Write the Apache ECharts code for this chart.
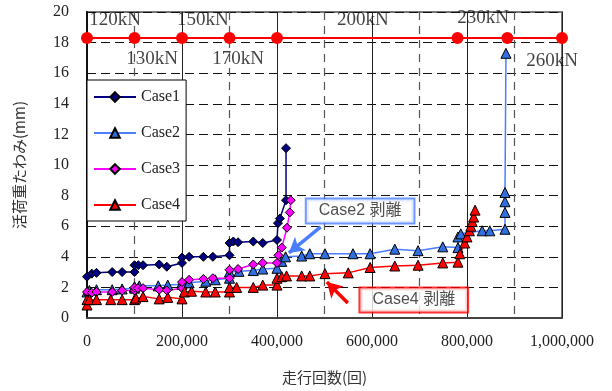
<!DOCTYPE html>
<html>
<head>
<meta charset="utf-8">
<script src="https://cdn.jsdelivr.net/npm/echarts@6/dist/echarts.min.js"></script>
<style>
  html, body { margin: 0; padding: 0; background: #fff; }
  #chart { width: 612px; height: 391px; }
</style>
</head>
<body>
<div id="chart"></div>
<script>
// 走行回数 vs 活荷重たわみ
const xTicks = [0, 200000, 400000, 600000, 800000, 1000000];

const case1 = [
  [0, 2.7], [10000, 2.9], [20000, 2.95], [53000, 3.0], [74000, 3.0], [100000, 3.0],
  [100000, 3.45], [108000, 3.45], [118000, 3.45], [152000, 3.5], [168000, 3.35], [200000, 3.6],
  [200000, 3.95], [215000, 4.0], [245000, 4.0], [265000, 4.0], [300000, 4.1],
  [300000, 4.9], [308000, 5.0], [318000, 4.95], [350000, 5.0], [370000, 4.9], [400000, 5.1],
  [402000, 6.2], [406000, 6.5], [419000, 7.7], [419000, 11.1]
];
const case2 = [
  [0, 1.7], [5000, 1.8], [20000, 1.85], [53000, 1.85], [74000, 1.9], [100000, 1.95],
  [100000, 2.05], [110000, 2.1], [150000, 2.1], [170000, 2.15], [200000, 2.2],
  [200000, 2.3], [215000, 2.3], [250000, 2.4], [270000, 2.5], [300000, 2.6],
  [300000, 3.0], [320000, 3.05], [350000, 3.1], [370000, 3.2], [400000, 3.25],
  [410000, 3.7], [418000, 4.0], [452000, 4.05], [469000, 4.2], [501000, 4.2], [560000, 4.2],
  [596000, 4.2], [648000, 4.5], [697000, 4.4], [749000, 4.65], [781000, 4.6],
  [781000, 5.3], [787000, 5.5], [832000, 5.7], [848000, 5.7], [880000, 5.8],
  [880000, 6.9], [880000, 7.6], [880000, 8.2], [882000, 17.3]
];
const case3 = [
  [0, 1.7], [10000, 1.65], [20000, 1.7], [53000, 1.7], [74000, 1.8], [100000, 1.8],
  [100000, 2.0], [107000, 1.95], [118000, 1.95], [152000, 1.85], [168000, 1.8], [200000, 1.95],
  [200000, 2.35], [215000, 2.5], [245000, 2.55], [265000, 2.6], [300000, 2.6],
  [300000, 3.15], [318000, 3.2], [350000, 3.5], [370000, 3.6], [400000, 3.6],
  [403000, 4.1], [410000, 4.6], [421000, 5.9], [427000, 6.9], [429000, 7.7]
];
const case4 = [
  [0, 0.85], [0, 1.2], [5000, 1.2], [20000, 1.2], [50000, 1.2], [74000, 1.2], [100000, 1.2],
  [103000, 1.3], [118000, 1.4], [152000, 1.25], [170000, 1.35], [200000, 1.25],
  [205000, 1.7], [220000, 1.75], [250000, 1.7], [270000, 1.7], [300000, 1.7],
  [300000, 2.0], [315000, 2.0], [350000, 2.0], [370000, 2.15], [400000, 2.15],
  [400000, 2.6], [410000, 2.7], [420000, 2.75], [452000, 2.75], [469000, 2.75],
  [501000, 2.9], [550000, 2.95], [596000, 3.3], [648000, 3.4], [697000, 3.45],
  [749000, 3.6], [781000, 3.65], [785000, 4.2], [795000, 4.9], [800000, 5.3],
  [805000, 5.7], [808000, 6.0], [811000, 6.3], [814000, 6.6], [817000, 7.05]
];

// 荷重段階
const loadSteps = [0, 100000, 200000, 300000, 400000, 780000, 885000, 1000000];
const loadLevel = 18.3;
const loadLabels = [
  [59000, 19.5, '120kN'], [137000, 16.9, '130kN'], [244000, 19.5, '150kN'],
  [318000, 16.9, '170kN'], [581000, 19.5, '200kN'], [834000, 19.6, '230kN'],
  [979000, 16.8, '260kN']
];

// 剥離の注記
const noteCase2 = { text: 'Case2 剥離', box: [575000, 7.0], from: [492000, 5.95], to: [425000, 4.25] };
const noteCase4 = { text: 'Case4 剥離', box: [688000, 1.18], from: [549000, 0.98], to: [505000, 2.35] };

const serif = '"Liberation Serif", "Times New Roman", serif';
const jp = '"Noto Sans CJK JP", sans-serif';

const myChart = echarts.init(document.getElementById('chart'));

function caseSeries(name, data, lineColor, fill, symbol, size) {
  return {
    name: name,
    type: 'line',
    data: data,
    symbol: symbol,
    symbolSize: size,
    showAllSymbol: true,
    lineStyle: { color: lineColor, width: 1.5 },
    itemStyle: { color: fill, borderColor: '#000', borderWidth: 1 },
    z: 4
  };
}

function noteSeries(note, color) {
  return {
    type: 'scatter',
    data: [note.box],
    symbolSize: 0,
    silent: true,
    z: 10,
    label: {
      show: true,
      position: 'inside',
      formatter: note.text,
      fontFamily: '"Liberation Sans", Arial, ' + jp,
      fontSize: 16,
      color: '#222',
      textBorderWidth: 0,
      textBorderColor: 'transparent',
      backgroundColor: '#fff',
      borderColor: color,
      borderWidth: 2,
      padding: [4, 12, 3, 12]
    },
    markLine: {
      silent: true,
      symbol: ['none', 'arrow'],
      symbolSize: [13, 15],
      label: { show: false },
      lineStyle: { color: color, width: 3.5, type: 'solid' },
      data: [[{ coord: note.from }, { coord: note.to }]]
    }
  };
}

const option = {
  animation: false,
  grid: {
    left: 87, right: 50, top: 12, bottom: 73,
    show: true, borderColor: '#777', borderWidth: 2
  },
  legend: {
    data: ['Case1', 'Case2', 'Case3', 'Case4'],
    orient: 'vertical',
    left: 87, top: 80,
    backgroundColor: '#fff',
    borderColor: '#000',
    borderWidth: 1,
    borderRadius: 0,
    padding: [9, 6, 8, 6],
    itemWidth: 42,
    itemHeight: 12,
    itemGap: 20,
    textStyle: { fontFamily: serif, fontSize: 16, color: '#222' }
  },
  xAxis: {
    type: 'value',
    min: 0, max: 1000000, interval: 200000,
    name: '走行回数(回)',
    nameLocation: 'middle',
    nameGap: 52,
    nameTextStyle: { fontFamily: jp, fontSize: 15, color: '#333' },
    axisLine: { lineStyle: { color: '#444', width: 2 } },
    axisTick: { show: false },
    axisLabel: {
      margin: 16,
      fontFamily: serif, fontSize: 16, color: '#222',
      formatter: v => xTicks.includes(v) ? v.toLocaleString('en-US') : ''
    },
    splitLine: { show: true, lineStyle: { color: '#222', width: 1 } },
    minorTick: { show: false, splitNumber: 2 },
    minorSplitLine: { show: true, lineStyle: { color: '#555', width: 1.2, type: [8, 6] } }
  },
  yAxis: {
    type: 'value',
    min: 0, max: 20, interval: 2,
    name: '活荷重たわみ(mm)',
    nameLocation: 'middle',
    nameGap: 60,
    nameTextStyle: { fontFamily: jp, fontSize: 15, color: '#333' },
    axisLine: { show: true, lineStyle: { color: '#111', width: 2 } },
    axisTick: { show: false },
    axisLabel: { margin: 18, fontFamily: serif, fontSize: 16, color: '#222' },
    splitLine: { show: true, lineStyle: { color: '#111', width: 1.2, type: [9, 5] } }
  },
  series: [
    {
      name: 'load',
      type: 'line',
      data: loadSteps.map(x => [x, loadLevel]),
      symbol: 'circle',
      symbolSize: 12,
      lineStyle: { color: '#ff0000', width: 2 },
      itemStyle: { color: '#ff0000' },
      z: 5
    },
    {
      type: 'scatter',
      data: loadLabels,
      symbolSize: 0,
      silent: true,
      label: {
        show: true,
        position: 'inside',
        formatter: p => p.data[2],
        fontFamily: serif,
        fontSize: 19,
        color: '#111',
        textBorderWidth: 0,
        textBorderColor: 'transparent'
      },
      z: 6
    },
    caseSeries('Case1', case1, '#000080', '#000080', 'diamond', 9),
    caseSeries('Case2', case2, '#4a7dff', '#2f6fe0', 'triangle', 10),
    caseSeries('Case3', case3, '#ff00ff', '#ff00ff', 'diamond', 9),
    caseSeries('Case4', case4, '#ff0000', '#ff0000', 'triangle', 10),
    noteSeries(noteCase2, '#4a7dff'),
    noteSeries(noteCase4, '#ff0000')
  ]
};

myChart.setOption(option);
</script>
</body>
</html>
